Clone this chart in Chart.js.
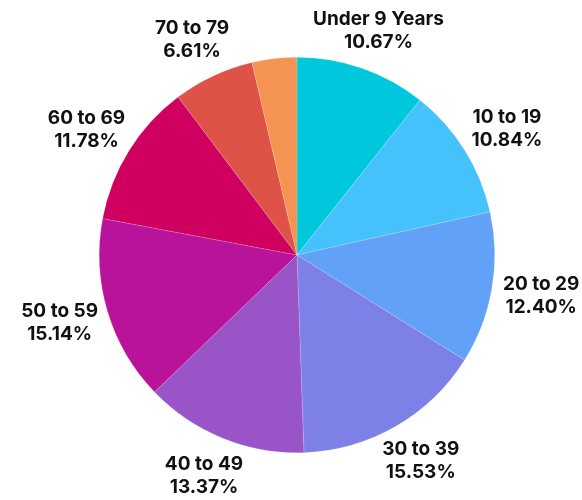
<!DOCTYPE html>
<html>
<head>
<meta charset="utf-8">
<script src="https://cdn.jsdelivr.net/npm/chart.js@4"></script>
<style>
  body { margin: 0; background: #fff; }
  #wrap { width: 582px; height: 500px; }
</style>
</head>
<body>
<div id="wrap"><canvas id="ageChart" width="582" height="500"></canvas></div>
<script>
const ageGroups = ["Under 9 Years", "10 to 19", "20 to 29", "30 to 39", "40 to 49", "50 to 59", "60 to 69", "70 to 79", "80 and Over"];
const sharePct = [10.67, 10.84, 12.40, 15.53, 13.37, 15.14, 11.78, 6.61, 3.66];
const sliceColors = ["#00C8DC", "#45C2FB", "#61A2F8", "#7D80E6", "#9955C8", "#B9129B", "#D00060", "#DE5248", "#F59452"];

// draws "name / pct" outside each slice, small slices get no label
const outsideLabels = {
  id: "outsideLabels",
  afterDatasetsDraw(chart) {
    const ctx = chart.ctx;
    const arcs = chart.getDatasetMeta(0).data;
    ctx.save();
    ctx.font = "bold 19px Inter, 'DejaVu Sans', sans-serif";
    ctx.fillStyle = "#111";
    ctx.textAlign = "center";
    ctx.textBaseline = "middle";
    arcs.forEach((arc, i) => {
      const val = sharePct[i];
      if (val < 5) return;
      const mid = (arc.startAngle + arc.endAngle) / 2;
      const rx = arc.outerRadius + 50;
      const ry = arc.outerRadius + 40;
      const x = arc.x + Math.cos(mid) * rx;
      const y = arc.y + Math.sin(mid) * ry;
      ctx.fillText(ageGroups[i], x, y - 11.5);
      ctx.fillText(val.toFixed(2) + "%", x, y + 11.5);
    });
    ctx.restore();
  },
};

let pieChart = new Chart(document.getElementById("ageChart"), {
  type: "pie",
  data: {
    labels: ageGroups,
    datasets: [
      {
        data: sharePct,
        backgroundColor: sliceColors,
        borderColor: "rgba(255,255,255,0.3)",
        borderWidth: 0.5,
      },
    ],
  },
  options: {
    responsive: false,
    animation: false,
    layout: {
      padding: { left: 99, right: 87, top: 57, bottom: 47 },
    },
    plugins: {
      legend: { display: false },
      tooltip: { enabled: false },
    },
  },
  plugins: [outsideLabels],
});
</script>
</body>
</html>
